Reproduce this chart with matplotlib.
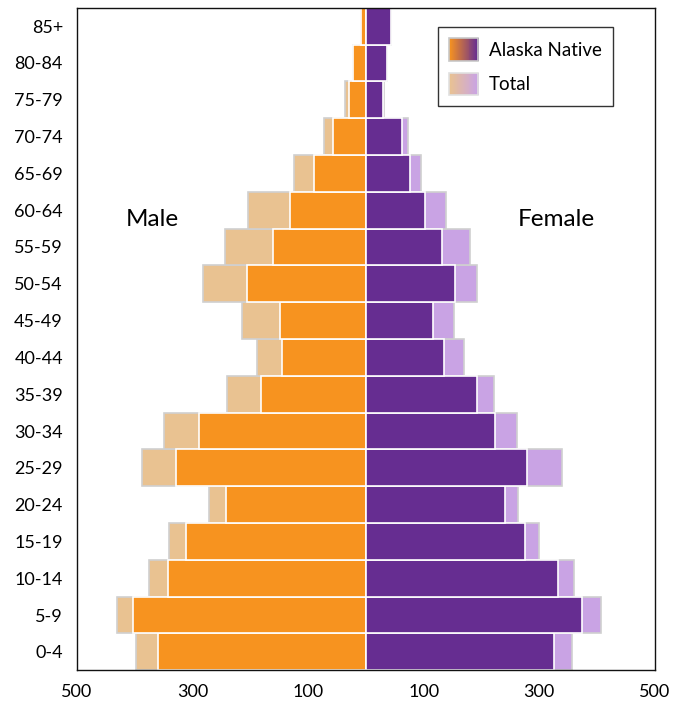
import matplotlib.pyplot as plt
import numpy as np
from matplotlib.legend_handler import HandlerBase
from matplotlib.patches import Rectangle
from matplotlib.colors import to_rgb

ages = ['0-4', '5-9', '10-14', '15-19', '20-24', '25-29', '30-34', '35-39', '40-44',
        '45-49', '50-54', '55-59', '60-64', '65-69', '70-74', '75-79', '80-84', '85+']

male_native = [360, 402, 342, 312, 242, 329, 288, 181, 145, 148, 205, 161, 132, 89, 56, 30, 22, 8]
male_total = [398, 430, 376, 341, 271, 387, 350, 240, 188, 214, 282, 243, 204, 125, 72, 36, 22, 8]
female_native = [325, 374, 333, 276, 240, 278, 224, 192, 135, 117, 155, 132, 103, 77, 62, 30, 36, 43]
female_total = [356, 406, 360, 299, 264, 340, 262, 222, 170, 153, 192, 180, 139, 95, 73, 32, 36, 43]

xticks = [-500, -300, -100, 100, 300, 500]
xtick_labels = ['500', '300', '100', '100', '300', '500']

ORANGE = '#F7931F'
PURPLE = '#662D91'
LIGHT_ORANGE = '#E9C291'
LIGHT_PURPLE = '#C9A3E4'

plt.rcParams['font.family'] = ['Lato', 'DejaVu Sans']


class GradientHandler(HandlerBase):
    def __init__(self, c1, c2, edge):
        super().__init__()
        self.c1 = np.array(to_rgb(c1))
        self.c2 = np.array(to_rgb(c2))
        self.edge = edge

    def create_artists(self, legend, orig_handle, xdescent, ydescent, width, height, fontsize, trans):
        n = 30
        arts = []
        for i in range(n):
            t = i / (n - 1)
            col = (1 - t) * self.c1 + t * self.c2
            r = Rectangle((-xdescent + i * width / n, -ydescent), width / n + 0.3, height,
                          facecolor=col, edgecolor='none', transform=trans)
            arts.append(r)
        border = Rectangle((-xdescent, -ydescent), width, height, facecolor='none',
                           edgecolor=self.edge, linewidth=1.2, transform=trans)
        arts.append(border)
        return arts


fig = plt.figure(figsize=(6.8, 7.07), dpi=100)
ax = fig.add_axes([0.113, 0.052, 0.85, 0.937])

y = np.arange(len(ages))

ax.barh(y, -np.array(male_total), height=1.0, color=LIGHT_ORANGE, edgecolor='#d0d0d0', linewidth=1.2)
ax.barh(y, female_total, height=1.0, color=LIGHT_PURPLE, edgecolor='#d0d0d0', linewidth=1.2)
ax.barh(y, -np.array(male_native), height=1.0, color=ORANGE, edgecolor='white', linewidth=1.2)
ax.barh(y, female_native, height=1.0, color=PURPLE, edgecolor='white', linewidth=1.2)

ax.set_xlim(-500, 500)
ax.set_ylim(-0.5, len(ages) - 0.5)
ax.set_xticks(xticks)
ax.set_xticklabels(xtick_labels, fontsize=13)
ax.set_yticks(y)
ax.set_yticklabels(ages, fontsize=13)
ax.tick_params(axis='y', length=0, pad=10)
ax.tick_params(axis='x', length=0, pad=10)
for s in ax.spines.values():
    s.set_linewidth(1.0)
    s.set_color('#111111')

ax.text(-370, 11.75, 'Male', fontsize=17.5, ha='center', va='center')
ax.text(330, 11.75, 'Female', fontsize=17.5, ha='center', va='center')

h1 = Rectangle((0, 0), 1, 1)
h2 = Rectangle((0, 0), 1, 1)
leg = ax.legend([h1, h2], ['Alaska Native', 'Total'],
                handler_map={h1: GradientHandler(ORANGE, PURPLE, '#c8c8c8'),
                             h2: GradientHandler(LIGHT_ORANGE, LIGHT_PURPLE, '#e0e0e0')},
                loc='upper right', bbox_to_anchor=(0.927, 0.971), borderaxespad=0,
                fontsize=13.5, handlelength=1.55, handleheight=1.45, labelspacing=0.65,
                handletextpad=0.55, borderpad=0.6, fancybox=False, framealpha=1)
leg.get_frame().set_edgecolor('#333333')
leg.get_frame().set_linewidth(1.0)

fig.savefig('out.png', dpi=100)
